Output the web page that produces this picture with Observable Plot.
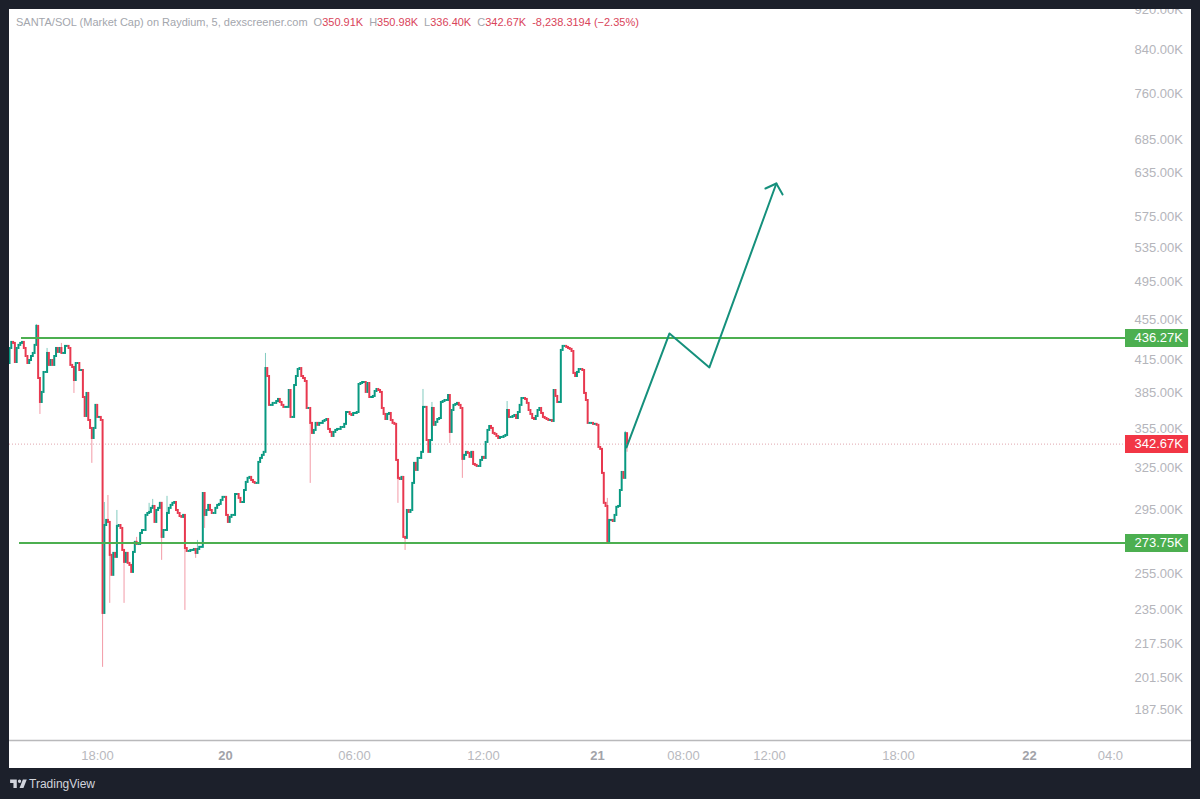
<!DOCTYPE html>
<html>
<head>
<meta charset="utf-8">
<script src="https://cdn.jsdelivr.net/npm/d3@7"></script>
<script src="https://cdn.jsdelivr.net/npm/@observablehq/plot@0.6"></script>
<style>
  html,body{margin:0;padding:0;background:#1c202b;}
  #frame{position:relative;width:1200px;height:799px;background:#1c202b;overflow:hidden;font-family:"Liberation Sans",sans-serif;}
  #panel{position:absolute;left:9px;top:9px;width:1182px;height:759px;background:#fff;overflow:hidden;}
  #panel svg{position:absolute;left:-9px;top:-9px;width:1200px;height:799px;max-width:none;}
  #head{position:absolute;left:16px;top:15px;font-size:11px;line-height:14px;color:#a3a6ad;white-space:nowrap;}
  #head b{font-weight:400;color:#d9445a;}
  #head span{margin-left:6px;}
  #foot{position:absolute;left:9px;top:776px;display:flex;align-items:center;color:#d1d4dc;font-size:12px;}
  #foot svg{width:20px;height:16px;margin-right:0px;}
</style>
</head>
<body>
<div id="frame">
  <div id="panel"></div>
  <div id="head">SANTA/SOL (Market Cap) on Raydium, 5, dexscreener.com<span>O<b>350.91K</b></span><span>H<b>350.98K</b></span><span>L<b>336.40K</b></span><span>C<b>342.67K</b></span><span><b>-8,238.3194 (−2.35%)</b></span></div>
  <div id="foot"><svg viewBox="0 0 36 28"><path fill="#d1d4dc" d="M14 6H2v6h6v9h6V6zm12 15h-7l6-15h7l-6 15zm-7-9a3 3 0 1 0 0-6 3 3 0 0 0 0 6z"/></svg>TradingView</div>
</div>
<script>
// Market cap in thousands, one close per 5-minute bar, each bar opens at the previous close
const firstOpen = 411.6;
const closes = [
425.9,431.8,430.8,412.5,425.9,428.9,430.8,431.8,425.9,418.2,411.6,414.4,418.2,421.1,428.9,447.8,
397.8,376.7,385.4,403.3,403.3,421.1,409.8,414.4,409.8,418.2,425.9,422.1,425.9,421.1,421.1,427.9,427.9,425.9,409.8,407.9,396.0,411.6,411.6,405.1,405.1,381.0,364.9,384.5,361.6,355.1,347.1,355.1,374.2,364.1,364.1,361.6,
233.2,284.8,288.1,286.8,266.1,254.3,267.3,264.9,284.2,284.8,282.9,269.1,261.9,267.3,261.3,260.1,256.0,267.9,274.1,272.8,272.8,279.7,281.6,281.6,291.4,292.7,293.4,296.1,297.4,286.8,294.7,296.1,299.5,277.2,281.6,281.6,292.7,296.1,298.1,299.5,300.1,294.7,292.7,290.7,290.1,291.4,270.3,268.5,268.5,269.1,269.1,269.7,267.3,269.7,271.0,271.0,
306.3,291.4,294.7,298.1,294.7,292.7,292.7,296.1,298.1,298.8,301.5,303.6,303.6,291.4,286.8,290.1,291.4,291.4,305.6,305.6,302.9,300.1,300.1,308.4,314.1,317.0,317.7,315.5,314.1,313.4,313.4,328.7,331.7,334.0,336.3,
406.9,399.6,374.2,374.2,375.9,375.9,377.5,379.3,376.7,374.2,372.5,372.5,372.5,387.1,364.1,364.1,391.5,399.6,406.0,406.9,399.6,397.8,395.1,371.6,371.6,359.2,351.1,353.5,359.2,357.6,359.2,359.2,360.8,361.6,362.4,354.3,351.9,348.7,351.9,353.5,354.3,354.3,355.9,355.9,358.4,368.2,368.2,366.6,365.7,367.4,367.4,368.2,392.4,393.3,394.2,394.2,385.4,393.3,381.0,381.0,381.9,386.2,388.0,387.1,385.4,371.6,366.6,362.4,366.6,367.4,361.6,359.2,358.4,330.2,317.0,316.2,317.7,
277.2,276.6,294.7,293.4,294.7,313.4,328.0,322.8,331.7,331.7,336.3,372.5,372.5,345.5,336.3,345.5,371.6,357.6,360.0,362.4,363.2,376.7,377.5,378.4,378.4,382.7,351.9,369.9,374.2,375.0,375.9,374.2,371.6,331.0,334.0,336.3,335.5,332.5,336.3,327.2,326.5,325.7,325.7,330.2,332.5,331.7,344.0,353.5,356.7,355.1,351.1,350.3,348.7,347.1,347.9,347.9,348.7,349.5,369.9,364.1,364.1,364.9,365.7,363.2,368.2,374.2,380.1,380.1,379.3,375.9,369.9,366.6,363.2,362.4,364.9,369.9,371.6,367.4,364.1,363.2,362.4,361.6,361.6,360.8,387.1,381.9,376.7,376.7,424.0,427.9,427.9,426.9,425.9,425.0,423.0,402.4,399.6,403.3,406.0,406.0,405.1,384.5,378.4,359.2,359.2,359.2,358.4,358.4,357.6,340.1,338.6,320.6,299.5,297.4,274.1,288.1,288.1,287.4,291.4,296.8,297.4,308.4,321.3,317.0,350.91,342.67
];
// Wicks that stick out of a bar's body
const highBars = [15,21,29,53,55,60,71,78,80,88,105,143,231,236,278,334,344,345];
const highValues = [449.8,425.9,430.8,300.1,304.9,294.7,277.2,299.5,302.2,304.3,275.3,421.1,388.0,376.7,377.5,302.9,352.7,350.98];
const lowBars = [17,36,46,52,56,64,85,98,104,109,168,217,221,246,253,345];
const lowValues = [366.6,384.5,328.0,206.3,238.6,238.6,263.1,234.8,264.3,282.9,313.4,299.5,269.1,343.2,317.0,336.40];

// Price axis
const priceTicks = [920,840,760,685,635,575,535,495,455,415,385,355,325,295,255,235,217.5,201.5,187.5];
// Time axis: the chart's axis skips empty stretches, so labels sit on bar positions
const hourTickBars = [49.2,192.7,264.8,376.5,424.6,496.6,615];
const hourTickLabels = ["18:00","06:00","12:00","08:00","12:00","18:00","04:0"];
const dayTickBars = [120.7,328.5,569.8];
const dayTickLabels = ["20","21","22"];

// Horizontal levels drawn on the chart
const levelValues = [436.27,273.75];
const levelStarts = [6.7,5.6];
const lastClose = 342.67;

// Hand-drawn projection arrow
const arrowBars = [344.7,368.7,391,428.4];
const arrowValues = [340.1,440.7,407.9,619.7];
const headBars = [422.3,428.4,431.9];
const headValues = [612.7,619.7,604.4];

const xEnd = 623.46, xLabelEnd = 658.7;
const UP = "#089981", DOWN = "#e8384f";

const bars = closes.map((c,i)=>{
  const o = i===0 ? firstOpen : closes[i-1];
  return {i, open:o, close:c, color: c>=o ? UP : DOWN};
});
const wickRows = [
  ...highBars.map((b,k)=>({i:b, a:Math.max(bars[b].open,bars[b].close), b:highValues[k], color:bars[b].color})),
  ...lowBars.map((b,k)=>({i:b, a:Math.min(bars[b].open,bars[b].close), b:lowValues[k], color:bars[b].color}))
];
const levels = levelValues.map((v,k)=>({v, start:levelStarts[k]}));
const arrow = arrowBars.map((x,k)=>({x, y:arrowValues[k]}));
const head = headBars.map((x,k)=>({x, y:headValues[k]}));
const fmtK = d => d.toFixed(2)+"K";

const chart = Plot.plot({
  width:1200, height:799,
  marginLeft:9, marginRight:75, marginTop:9, marginBottom:59,
  style:{background:"transparent", fontFamily:"'Liberation Sans',sans-serif", fontSize:"13px", overflow:"visible"},
  x:{type:"linear", domain:[0,xEnd]},
  y:{type:"log", domain:[174.7,920.3]},
  marks:[
    Plot.axisY({anchor:"right", ticks:priceTicks, tickSize:0, tickPadding:9, tickFormat:fmtK, label:null, fill:"#b4b5bb"}),
    Plot.axisX({ticks:hourTickBars, tickSize:0, tickPadding:10, label:null, fill:"#b8b9be",
      tickFormat:d=>hourTickLabels[hourTickBars.indexOf(d)]}),
    Plot.axisX({ticks:dayTickBars, tickSize:0, tickPadding:10, label:null, fill:"#a2a3a9", fontWeight:"bold",
      tickFormat:d=>dayTickLabels[dayTickBars.indexOf(d)]}),
    Plot.ruleY([174.7],{x1:0,x2:(1191-9)/1.79,stroke:"#b9b9bb",strokeWidth:1.5}),
    Plot.ruleY([lastClose],{x1:0,x2:xEnd,stroke:"#e0a6ad",strokeWidth:1,strokeDasharray:"1,2"}),
    Plot.ruleX(wickRows,{x:"i",y1:"a",y2:"b",stroke:"color",strokeWidth:1,strokeOpacity:0.5}),
    Plot.ruleX(bars,{x:"i",y1:"open",y2:"close",stroke:"color",strokeWidth:2,strokeLinecap:"square"}),
    Plot.ruleY(levels,{y:"v",x1:"start",x2:xEnd,stroke:"#4caf50",strokeWidth:2}),
    Plot.line(arrow,{x:"x",y:"y",stroke:"#15907c",strokeWidth:2}),
    Plot.line(head,{x:"x",y:"y",stroke:"#15907c",strokeWidth:2}),
    Plot.ruleY(levelValues,{x1:xEnd,x2:xLabelEnd,stroke:"#4caf50",strokeWidth:18}),
    Plot.ruleY([lastClose],{x1:xEnd,x2:xLabelEnd,stroke:"#f23645",strokeWidth:18}),
    Plot.text([...levelValues,lastClose],{x:xEnd,y:d=>d,dx:9,text:fmtK,textAnchor:"start",fill:"#fff",fontSize:13})
  ]
});
document.getElementById("panel").appendChild(chart);
</script>
</body>
</html>
